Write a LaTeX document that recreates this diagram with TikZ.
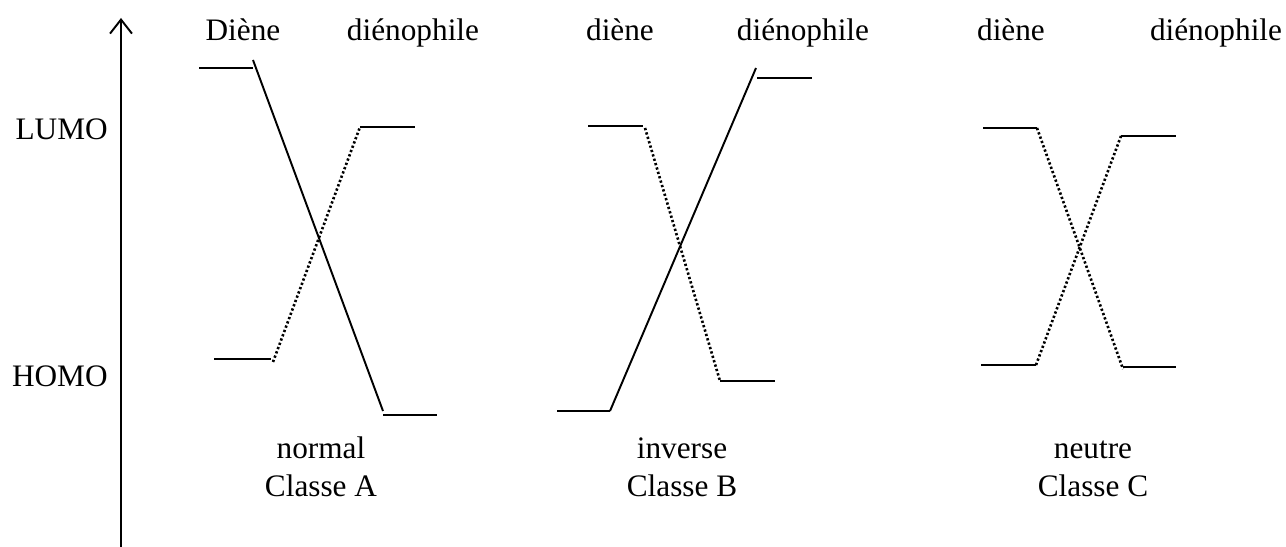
\documentclass[tikz,border=0pt]{standalone}
\usepackage{fontspec}
\setmainfont{Liberation Serif}
\usetikzlibrary{arrows.meta}
\tikzset{
  lvl/.style={line width=1.15pt},
  solidlink/.style={line width=1.1pt},
  dotlink/.style={line width=1.5pt, dash pattern=on 1.3pt off 1.3pt},
  lbl/.style={font=\fontsize{17.8}{21}\selectfont, inner sep=0pt, anchor=base},
  axis/.style={line width=1.1pt, -{Straight Barb[length=8pt, width=12.5pt, line width=1.1pt]}}
}
\begin{document}
\begin{tikzpicture}[x=0.02cm, y=-0.02cm]
\useasboundingbox (0,0) rectangle (1286,547);
% axis
\coordinate (ax0) at (121,547);
\coordinate (ax1) at (121,18);
\draw[axis] (ax0) -- (ax1);
\node[lbl, anchor=base east] (lumo) at (108,140) {LUMO};
\node[lbl, anchor=base east] (homo) at (108,387) {HOMO};
% headings
\node[lbl] (hA1) at (243,41) {Diène};
\node[lbl] (hA2) at (413,41) {diénophile};
\node[lbl] (hB1) at (620,41) {diène};
\node[lbl] (hB2) at (803,41) {diénophile};
\node[lbl] (hC1) at (1011,41) {diène};
\node[lbl] (hC2) at (1216,41) {diénophile};
% Class A
\coordinate (a1) at (199,68); \coordinate (a2) at (253,68);
\coordinate (a2t) at (253,60);
\coordinate (a3) at (383,411); \coordinate (a3l) at (383,415); \coordinate (a4) at (437,415);
\draw[lvl] (a1) -- (a2);
\draw[solidlink] (a2t) -- (a3);
\draw[lvl] (a3l) -- (a4);
\coordinate (a5) at (214,359); \coordinate (a6) at (271,359);
\coordinate (a6d) at (273,362);
\coordinate (a7) at (360,127); \coordinate (a8) at (415,127);
\draw[lvl] (a5) -- (a6);
\draw[dotlink] (a6d) -- (a7);
\draw[lvl] (a7) -- (a8);
\node[lbl] (nA) at (321,459) {normal};
\node[lbl] (cA) at (321,497) {Classe A};
% Class B
\coordinate (b1) at (557,411); \coordinate (b2) at (610,411);
\coordinate (b3) at (756,68); \coordinate (b3l) at (757,78); \coordinate (b4) at (812,78);
\draw[lvl] (b1) -- (b2);
\draw[solidlink] (b2) -- (b3);
\draw[lvl] (b3l) -- (b4);
\coordinate (b5) at (588,126); \coordinate (b6) at (643,126);
\coordinate (b6d) at (645,128);
\coordinate (b7) at (720,381); \coordinate (b8) at (775,381);
\draw[lvl] (b5) -- (b6);
\draw[dotlink] (b6d) -- (b7);
\draw[lvl] (b7) -- (b8);
\node[lbl] (nB) at (682,459) {inverse};
\node[lbl] (cB) at (682,497) {Classe B};
% Class C
\coordinate (c1) at (983,128); \coordinate (c2) at (1037,128);
\coordinate (c3) at (1123,369); \coordinate (c3l) at (1123,367); \coordinate (c4) at (1176,367);
\draw[lvl] (c1) -- (c2);
\draw[dotlink] (c2) -- (c3);
\draw[lvl] (c3l) -- (c4);
\coordinate (c5) at (981,365); \coordinate (c6) at (1036,365);
\coordinate (c7) at (1121,136); \coordinate (c8) at (1176,136);
\draw[lvl] (c5) -- (c6);
\draw[dotlink] (c6) -- (c7);
\draw[lvl] (c7) -- (c8);
\node[lbl] (nC) at (1093,459) {neutre};
\node[lbl] (cC) at (1093,497) {Classe C};
\end{tikzpicture}
\end{document}
